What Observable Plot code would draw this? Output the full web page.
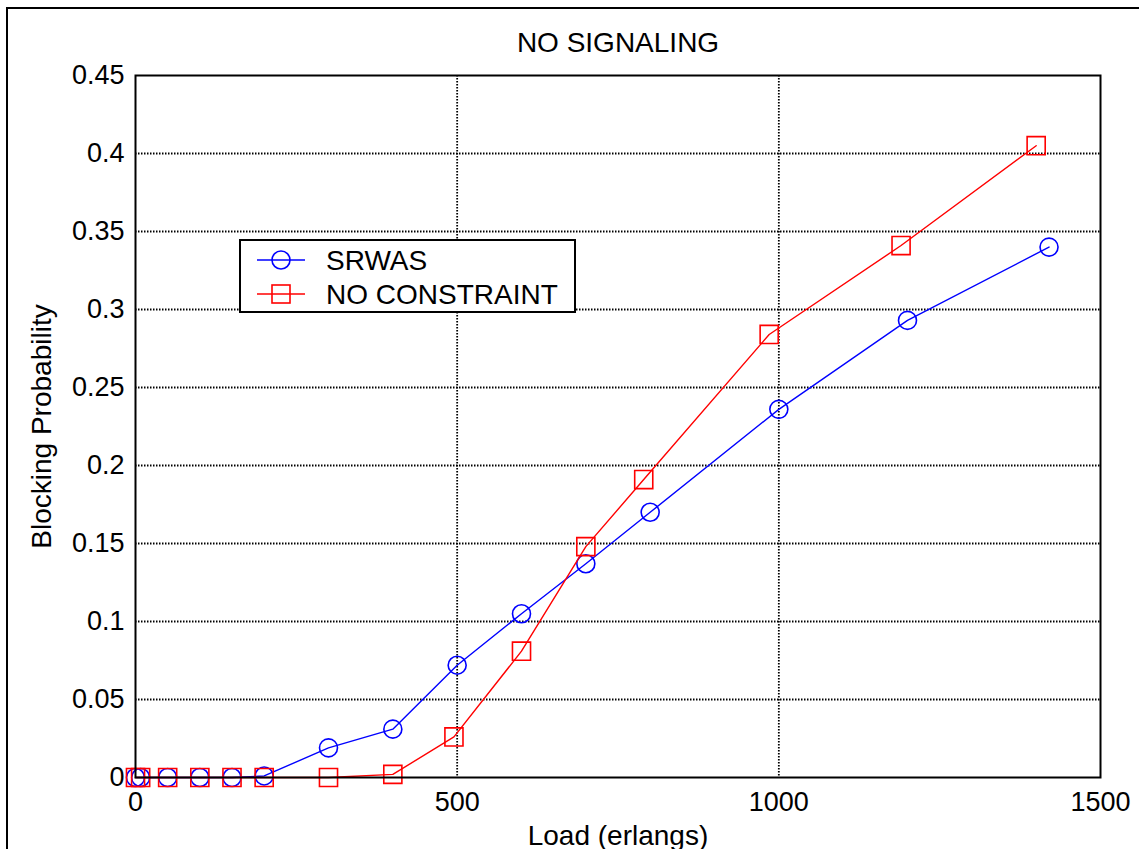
<!DOCTYPE html>
<html>
<head>
<meta charset="utf-8">
<script src="https://cdn.jsdelivr.net/npm/d3@7"></script>
<script src="https://cdn.jsdelivr.net/npm/@observablehq/plot@0.6"></script>
<style>
  html, body { margin: 0; padding: 0; background: white; overflow: hidden; }
  #wrap { position: relative; width: 1139px; height: 849px; overflow: hidden; font-family: "Liberation Sans", Arial, sans-serif; }
  #outer { position: absolute; left: 6px; top: 7px; width: 1300px; height: 1000px; border: 2px solid black; box-sizing: border-box; pointer-events: none; }
  #chart { position: absolute; left: 0; top: 0; }
  #legend { position: absolute; left: 239px; top: 239px; width: 337px; height: 74px; border: 2px solid black; box-sizing: border-box; background: white; }
  #legend svg { position: absolute; left: -2px; top: -2px; }
</style>
</head>
<body>
<div id="wrap">
  <div id="outer"></div>
  <div id="chart"></div>
  <div id="legend"></div>
</div>
<script>
// ---- data ----
const chartTitle = "NO SIGNALING";
const xLabel = "Load (erlangs)";
const yLabel = "Blocking Probability";
const seriesNames = ["SRWAS", "NO CONSTRAINT"];

const loadSRWAS  = [0, 8, 50, 100, 150, 200, 300, 400, 500, 600, 700, 800, 1000, 1200, 1420];
const blockSRWAS = [0, 0, 0, 0, 0, 0.001, 0.019, 0.031, 0.072, 0.105, 0.137, 0.170, 0.236, 0.293, 0.340];

const loadNoConstraint  = [0, 8, 50, 100, 150, 200, 300, 400, 495, 600, 700, 790, 985, 1190, 1400];
const blockNoConstraint = [0, 0, 0, 0, 0, 0, 0, 0.002, 0.026, 0.081, 0.148, 0.191, 0.284, 0.341, 0.405];

const xTicks = [0, 500, 1000, 1500];
const yTicks = [0, 0.05, 0.1, 0.15, 0.2, 0.25, 0.3, 0.35, 0.4, 0.45];

// ---- build tables ----
const srwas = loadSRWAS.map((x, i) => ({x, y: blockSRWAS[i]}));
const noCon = loadNoConstraint.map((x, i) => ({x, y: blockNoConstraint[i]}));

const blue = "#0000ff", red = "#ff0000";
const font = "'Liberation Sans', Arial, sans-serif";

const plot = Plot.plot({
  width: 1139,
  height: 849,
  marginLeft: 135,
  marginRight: 39,
  marginTop: 75,
  marginBottom: 72,
  x: {domain: [0, 1500]},
  y: {domain: [0, 0.45]},
  style: {fontFamily: font, fontSize: "27px", color: "black", background: "transparent"},
  marks: [
    Plot.gridX(xTicks.filter(d => d > 0 && d < 1500), {stroke: "black", strokeOpacity: 1, strokeWidth: 1.8, strokeDasharray: "1.5,1.5"}),
    Plot.gridY(yTicks.filter(d => d > 0 && d < 0.45), {stroke: "black", strokeOpacity: 1, strokeWidth: 1.8, strokeDasharray: "1.5,1.5"}),
    Plot.axisX(xTicks, {tickSize: 0, tickPadding: 14, tickFormat: d => String(d), label: null, fontSize: 27}),
    Plot.axisY(yTicks, {tickSize: 0, tickPadding: 11, tickFormat: d => String(+d.toFixed(2)), label: null, fontSize: 27}),
    Plot.line(srwas, {x: "x", y: "y", stroke: blue, strokeWidth: 1.4}),
    Plot.dot(srwas, {x: "x", y: "y", symbol: "circle", r: 9, stroke: blue, fill: "none", strokeWidth: 1.6}),
    Plot.line(noCon, {x: "x", y: "y", stroke: red, strokeWidth: 1.4}),
    Plot.dot(noCon, {x: "x", y: "y", symbol: "square", r: 10.2, stroke: red, fill: "none", strokeWidth: 1.6}),
    Plot.frame({stroke: "black", strokeWidth: 2}),
    Plot.text([chartTitle], {frameAnchor: "top", lineAnchor: "middle", dy: -32, fontSize: 28, fill: "black"}),
    Plot.text([xLabel], {frameAnchor: "bottom", lineAnchor: "middle", dy: 59, fontSize: 28, fill: "black"}),
    Plot.text([yLabel], {frameAnchor: "left", textAnchor: "middle", lineAnchor: "middle", dx: -93, rotate: -90, fontSize: 28, fill: "black"})
  ]
});
document.getElementById("chart").appendChild(plot);

// ---- legend ----
const lg = d3.select("#legend").append("svg").attr("width", 337).attr("height", 74);
const rows = [
  {name: seriesNames[0], color: blue, sym: "circle", y: 21},
  {name: seriesNames[1], color: red, sym: "square", y: 55}
];
rows.forEach(r => {
  lg.append("line").attr("x1", 18).attr("x2", 66).attr("y1", r.y).attr("y2", r.y)
    .attr("stroke", r.color).attr("stroke-width", 1.4);
  if (r.sym === "circle") {
    lg.append("circle").attr("cx", 42).attr("cy", r.y).attr("r", 9)
      .attr("fill", "none").attr("stroke", r.color).attr("stroke-width", 1.6);
  } else {
    lg.append("rect").attr("x", 33).attr("y", r.y - 9).attr("width", 18).attr("height", 18)
      .attr("fill", "none").attr("stroke", r.color).attr("stroke-width", 1.6);
  }
  lg.append("text").attr("x", 87).attr("y", r.y).attr("dy", "0.35em")
    .attr("font-family", font).attr("font-size", 28).attr("fill", "black").text(r.name);
});
</script>
</body>
</html>
